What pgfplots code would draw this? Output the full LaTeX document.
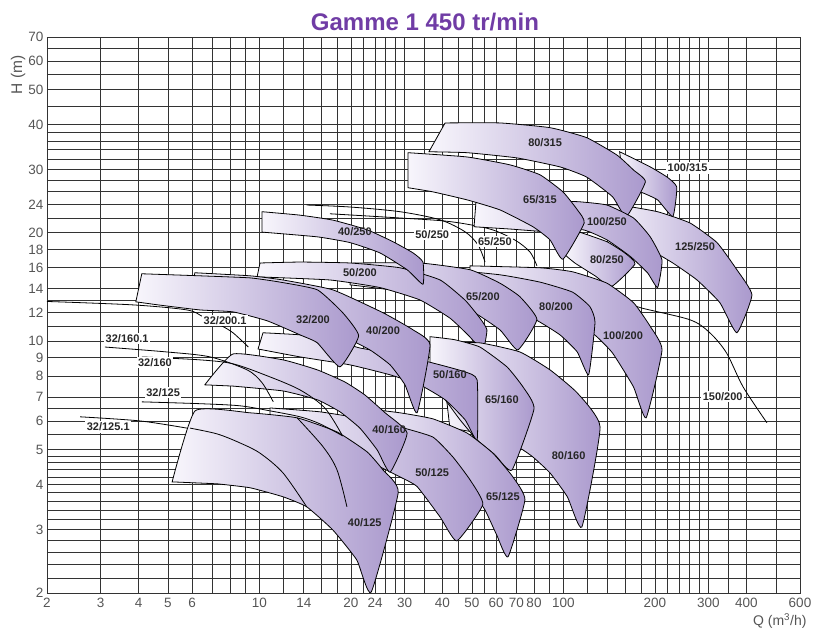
\documentclass[border=0pt]{standalone}
\usepackage{pgfplots}
\pgfplotsset{compat=1.18}
\usepackage{fontspec}
\setmainfont{Liberation Sans}
\definecolor{bandL}{RGB}{248,246,252}
\definecolor{bandR}{RGB}{170,153,205}
\definecolor{titlec}{RGB}{112,60,165}
\definecolor{tickc}{RGB}{85,85,85}
\tikzset{
  band/.style={draw=black, line width=0.8pt, left color=bandL, right color=bandR, line join=miter, smooth, tension=0.28},
  pline/.style={draw=black, line width=0.8pt, smooth, tension=0.5},
  lab/.style={font=\bfseries\fontsize{11}{12}\selectfont, text=black!85, inner sep=1pt},
  llab/.style={font=\bfseries\fontsize{11}{12}\selectfont, text=black!85, fill=white, inner sep=1.5pt},
}
\begin{document}
\begin{tikzpicture}
\useasboundingbox (-47pt,-39pt) rectangle (773pt,593pt);
\begin{axis}[
  at={(0pt,0pt)}, anchor=south west, scale only axis,
  width=753pt, height=556pt,
  xmode=log, ymode=log, xmin=2, xmax=600, ymin=2, ymax=70,
  xtick={2,3,4,5,6,10,14,20,24,30,40,50,60,70,80,100,200,300,400,600},
  xticklabels={2,3,4,5,6,10,14,20,24,30,40,50,60,70,80,100,200,300,400,600},
  minor xtick={7,8,9,12,16,18,22,26,28,35,45,55,90,120,140,160,180,220,240,260,280,350,500},
  ytick={2,3,4,5,6,7,8,9,10,12,14,16,18,20,24,30,40,50,60,70},
  yticklabels={2,3,4,5,6,7,8,9,10,12,14,16,18,20,24,30,40,50,60,70},
  minor ytick={2.2,2.4,2.6,2.8,3.2,3.4,3.6,3.8,4.2,4.4,4.6,4.8,5.5,6.5,11,13,22,26,28,32,34,36,38,45,55,65},
  grid=both,
  major grid style={black!80, line width=0.85pt},
  minor grid style={black!80, line width=0.85pt},
  axis line style={black!80, line width=0.85pt},
  major tick length=0pt, minor tick length=0pt,
  tick label style={font=\fontsize{13.5}{15}\selectfont, text=tickc},
  xticklabel style={yshift=-2pt},
  /pgf/number format/assume math mode=true,
]
% ---- lines partly hidden behind bands
\addplot[pline] coordinates {(14.3,23.9) (19.85,23.6) (29.0,22.9) (39.3,21.74) (47.5,20.13) (52.4,18.5) (55.2,16.6)};
\addplot[pline] coordinates {(17.06,22.6) (29.0,22.0) (42.3,21.5) (57.3,20.5) (69.3,19.1) (77.6,17.7) (81.8,16.2)};
\addplot[pline] coordinates {(120,13.4) (153,13.03) (179,12.4) (261,11.47) (303,10.56) (344,9.28) (390,7.47) (467,5.94)};
% ---- bands (back to front)
\addplot[band] coordinates {(137,23.9) (153,23.9) (204,22.9) (261,21.3) (320,18.8) (372,15.8) (417,13.45) (372,10.56) (327,12.8) (275,14.8) (229,16.5) (193,17.94) (159,19.1) (137,19.75)} -- cycle;
\addplot[band] coordinates {(153,33.6) (166,32.5) (193,30.5) (219,28.6) (236,26.8) (229,22.2) (204,24.7) (179,26.0) (159,26.7)} -- cycle;
\addplot[band] coordinates {(40.8,40.4) (61.8,40.4) (90.3,39.2) (119,36.8) (150,32.9) (170,29.9) (186,27.7) (161,22.2) (145,25.2) (119,28.6) (97.4,30.5) (70.4,32.3) (48.2,33.4) (36.1,33.6)} -- cycle;
\addplot[band] coordinates {(51.6,24.7) (71.9,24.7) (97.4,24.5) (113,24.4) (139,23.9) (170,22.0) (193,19.5) (211,16.8) (204,14.1) (189,15.5) (166,17.2) (139,19.13) (116,20.4) (90.3,20.13) (66.7,20.5) (50.8,20.8)} -- cycle;
\addplot[band] coordinates {(113,20.1) (139,18.9) (159,17.6) (172,16.4) (144,14.2) (127,15.2) (109,16.5) (101,17.4)} -- cycle;
\addplot[band] coordinates {(30.8,33.4) (48.2,32.5) (66.7,30.9) (83.7,29.0) (99.6,26.0) (111,23.2) (117,21.3) (99.6,16.9) (90.3,19.13) (79.4,20.8) (61.8,23.17) (48.2,24.7) (37.2,26.0) (30.8,26.7)} -- cycle;
\addplot[band] coordinates {(49.3,16.2) (83.7,16.0) (107,15.6) (139,14.5) (170,12.8) (193,11.0) (211,9.46) (187,6.13) (170,7.47) (145,9.28) (127,10.4) (105,11.6) (83.7,12.6) (61.8,13.45) (49.3,13.7)} -- cycle;
\addplot[band] coordinates {(36.4,16.0) (61.8,15.3) (83.7,14.6) (107,13.7) (122,12.5) (127,11.3) (121,8.07) (111,9.34) (97.4,10.42) (80.6,11.5) (64.2,12.2) (49.3,12.9) (36.4,13.2)} -- cycle;
\addplot[band] coordinates {(20.3,16.5) (33.7,16.5) (49.3,15.8) (61.8,14.5) (71.9,13.3) (81.8,11.5) (70.8,9.46) (61.8,10.76) (49.3,12.2) (36.4,13.3) (26.9,13.9) (19.85,14.35)} -- cycle;
\addplot[band] coordinates {(10.04,16.5) (13.59,16.6) (19.85,16.5) (29.0,16.0) (39.3,14.8) (47.5,13.0) (53.1,11.6) (56.0,10.76) (54.3,9.46) (48.6,10.4) (42.3,11.6) (33.7,13.03) (24.9,14.1) (17.06,14.8) (9.82,15.1)} -- cycle;
\addplot[band] coordinates {(10.2,22.9) (13.6,22.4) (17.45,21.7) (22.6,20.4) (27.5,18.9) (32.0,17.6) (34.5,16.6) (34.5,14.4) (30.6,15.8) (24.9,17.6) (19.85,18.8) (15.5,19.5) (10.2,20.1)} -- cycle;
\addplot[band] coordinates {(39.3,9.9) (53.1,9.9) (71.9,9.34) (90.3,8.33) (111,7.19) (132,5.78) (115,3.05) (103,3.70) (90.3,4.31) (79.4,4.77) (71.9,5.05) (57.3,5.49) (42.3,5.74)} -- cycle;
\addplot[band] coordinates {(36.4,10.3) (43.9,10.1) (53.1,9.64) (65.2,8.49) (73.6,7.47) (80.0,6.49) (67.7,4.39) (59.5,4.84) (52.0,5.32) (45.7,6.05) (40.8,6.88) (36.4,7.57)} -- cycle;
\addplot[band] coordinates {(10.27,10.56) (13.6,10.42) (17.45,10.09) (21.4,9.58) (29.0,9.17) (39.3,8.6) (47.5,8.22) (52.0,7.81) (52.0,5.32) (47.5,6.05) (40.8,6.88) (33.7,7.57) (26.9,8.07) (19.85,8.6) (13.6,9.05) (9.89,9.52)} -- cycle;
\addplot[band] coordinates {(6.13,15.5) (9.31,15.2) (11.95,14.8) (17.45,13.89) (25.5,12.0) (32.0,10.76) (36.4,9.77) (33.0,6.33) (30.1,7.57) (26.9,8.6) (23.1,9.46) (18.4,10.42) (13.6,11.3) (9.31,12.1) (5.82,12.6)} -- cycle;
\addplot[band] coordinates {(4.10,15.4) (6.37,15.2) (9.31,15.0) (11.68,14.6) (15.5,13.9) (18.8,12.0) (21.2,10.35) (18.4,8.49) (15.5,9.9) (13.59,10.42) (10.6,11.4) (8.18,12.07) (6.37,12.22) (4.71,12.6) (3.92,12.87)} -- cycle;
\addplot[band] coordinates {(21.4,6.53) (29.0,6.33) (37.2,6.09) (48.2,5.56) (58.6,4.89) (68.2,4.2) (74.7,3.63) (65.7,2.52) (60.4,2.89) (55.2,3.40) (49.3,3.92) (42.3,4.53) (35.0,5.15) (29.0,5.6) (21.4,5.86)} -- cycle;
\addplot[band] coordinates {(10.83,6.53) (15.8,6.37) (23.1,6.05) (29.0,5.78) (37.2,5.42) (43.3,4.77) (49.3,4.12) (54.3,3.52) (44.6,2.79) (39.3,3.25) (33.0,3.95) (29.0,4.2) (23.1,4.62) (17.1,5.15) (12.6,5.67) (10.83,6.05)} -- cycle;
\addplot[band] coordinates {(6.61,7.57) (8.18,9.22) (11.95,8.88) (15.5,8.33) (19.1,7.71) (22.2,7.1) (25.9,6.33) (30.6,5.56) (26.9,4.33) (24.4,4.99) (21.4,5.74) (18.4,6.37) (15.5,6.88) (11.95,7.28) (8.18,7.51)} -- cycle;
\addplot[band] coordinates {(5.16,4.07) (6.14,6.41) (9.31,6.33) (13.3,6.13) (18.0,5.6) (22.6,4.93) (25.5,4.39) (28.6,3.8) (23.3,2.01) (20.9,2.47) (17.45,2.99) (14.3,3.47) (11.95,3.7) (9.31,3.92) (7.26,4.02)} -- cycle;
% ---- internal curves
\addplot[pline] coordinates {(5.91,5.74) (7.26,5.53) (8.63,5.22) (10.04,4.89) (11.95,4.31) (14.3,3.47)};
\addplot[pline] coordinates {(13.3,6.13) (16.2,5.09) (18.0,4.39) (19.4,3.47)};
% ---- pump curves for 32 series
\addplot[pline] coordinates {(2.57,6.17) (4.04,6.01) (5.77,5.74)};
\addplot[pline] coordinates {(4.10,6.79) (6.37,6.71) (8.63,6.62) (10.83,6.41) (13.6,6.17) (15.8,5.9) (18.8,5.46)};
\addplot[pline] coordinates {(3.10,9.64) (4.96,9.34) (6.88,9.05) (9.1,8.33) (10.2,7.67) (11.1,6.79)};
\addplot[pline] coordinates {(4.10,9.05) (6.37,8.88) (8.18,8.66) (10.6,8.02) (13.59,7.33) (16.4,6.53) (18.7,5.49)};
\addplot[pline] coordinates {(2.0,12.9) (3.84,12.62) (5.77,12.22) (6.52,11.7) (7.42,11.1) (8.18,10.56) (9.19,9.64)};
% ---- labels
\node[llab] at (3.18,5.78) {32/125.1};
\node[llab] at (4.82,7.19) {32/125};
\node[llab] at (4.53,8.71) {32/160};
\node[llab] at (3.67,10.2) {32/160.1};
\node[llab] at (7.71,11.4) {32/200.1};
\node[llab] at (37.0,19.75) {50/250};
\node[llab] at (59.5,18.9) {65/250};
\node[llab] at (256,30.3) {100/315};
\node[llab] at (334,7.02) {150/200};
\node[lab] at (87.0,35.6) {80/315};
\node[lab] at (83.7,24.7) {65/315};
\node[lab] at (139,21.5) {100/250};
\node[lab] at (139,16.9) {80/250};
\node[lab] at (271,18.3) {125/250};
\node[lab] at (20.6,20.1) {40/250};
\node[lab] at (21.4,15.5) {50/200};
\node[lab] at (54.3,13.3) {65/200};
\node[lab] at (94.5,12.5) {80/200};
\node[lab] at (157,10.4) {100/200};
\node[lab] at (15.0,11.5) {32/200};
\node[lab] at (25.5,10.7) {40/200};
\node[lab] at (42.3,8.07) {50/160};
\node[lab] at (62.7,6.88) {65/160};
\node[lab] at (104,4.80) {80/160};
\node[lab] at (26.7,5.67) {40/160};
\node[lab] at (37.0,4.31) {50/125};
\node[lab] at (63.2,3.70) {65/125};
\node[lab] at (22.2,3.13) {40/125};
\end{axis}
% ---- titles (picture coordinates: axis box spans 0..753pt x 0..556pt)
\node[font=\bfseries\fontsize{24}{28}\selectfont, text=titlec] at (378pt,571pt) {Gamme 1 450 tr/min};
\node[rotate=90, font=\fontsize{15.5}{17}\selectfont, text=tickc] at (-29pt,518pt) {H (m)};
\node[anchor=east, font=\fontsize{14}{16}\selectfont, text=tickc] at (763pt,-28pt) {Q (m\textsuperscript{3}/h)};
\end{tikzpicture}
\end{document}
